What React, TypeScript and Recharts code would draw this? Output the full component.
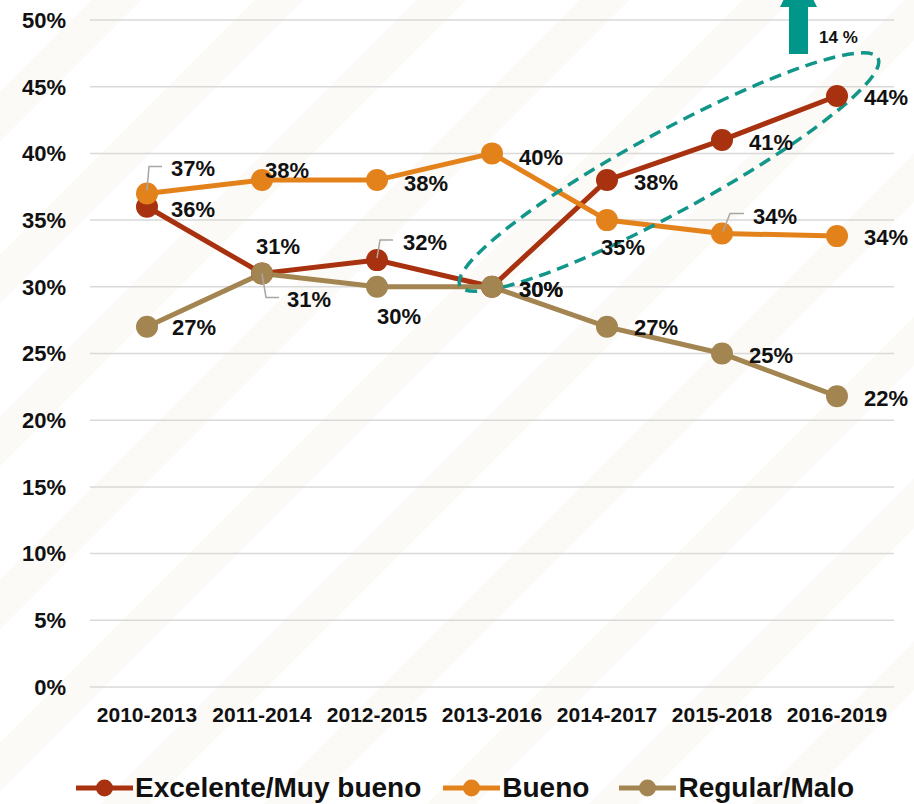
import {
  CartesianGrid,
  LabelList,
  Legend,
  Line,
  LineChart,
  ReferenceDot,
  XAxis,
  YAxis,
} from "recharts";

const PERIODS = ["2010-2013", "2011-2014", "2012-2015", "2013-2016", "2014-2017", "2015-2018", "2016-2019"];
const EXCELENTE = [36, 31, 32, 30, 38, 41, 44.3];
const BUENO = [37, 38, 38, 40, 35, 34, 33.8];
const REGULAR = [27, 31, 30, 30, 27, 25, 21.8];
const Y_TICKS = [0, 5, 10, 15, 20, 25, 30, 35, 40, 45, 50];

const COLORS = { exc: "#A8310F", bueno: "#E3821B", reg: "#A38552" };
const TEAL = "#12968A";

// label placement per point: [dx to text start, dy to text middle, leader]
type Place = [number, number, string?];
const EXC_LABELS: Place[] = [[24, 3], [-6, -27], [26, -18, "up"], [27, 3], [27, 2], [27, 2], [27, 1]];
const BUENO_LABELS: Place[] = [[24, -25, "up0"], [3, -10], [27, 3], [27, 4], [-6, 27], [31, -17, "up1"], [27, 1]];
const REG_LABELS: Place[] = [[25, 1], [25, 26, "down"], [0, 30], [27, 3], [27, 1], [27, 2], [27, 2]];

const LEADERS: Record<string, string> = {
  up: "M0,-2 L3,-20 L16,-20",
  up0: "M0,-3 L2,-27 L15,-27",
  up1: "M1,-2 L8,-20 L22,-20",
  down: "M0,0 L4,24 L17,24",
};

const data = PERIODS.map((p, i) => ({ period: p, exc: EXCELENTE[i], bueno: BUENO[i], reg: REGULAR[i] }));

const LABEL_FONT = "'Liberation Sans', Arial, sans-serif";

function labelFor(places: Place[]) {
  return (props: any) => {
    const { x, y, value, index } = props;
    const pl = places[index] ?? [27, 2];
    const leader = pl[2] ? LEADERS[pl[2]] : null;
    return (
      <g>
        {leader && (
          <path d={leader} transform={`translate(${x},${y})`} stroke="#A6A6A6" strokeWidth={1.5} fill="none" />
        )}
        <text
          x={x + pl[0]}
          y={y + pl[1]}
          dominantBaseline="central"
          fontFamily={LABEL_FONT}
          fontWeight="bold"
          fontSize={22}
          fill="#111"
        >
          {Math.round(value)}%
        </text>
      </g>
    );
  };
}

const LEGEND_ITEMS = [
  { key: "exc", name: "Excelente/Muy bueno", gap: 0 },
  { key: "bueno", name: "Bueno", gap: 22 },
  { key: "reg", name: "Regular/Malo", gap: 30 },
];

function LegendContent() {
  return (
    <div style={{ height: 67, position: "relative" }}>
      <div style={{ position: "absolute", top: 35, left: 76, display: "flex", alignItems: "center" }}>
        {LEGEND_ITEMS.map((it) => (
          <div key={it.key} style={{ display: "flex", alignItems: "center", marginLeft: it.gap }}>
            <svg width={57} height={20}>
              <line x1={0} y1={10} x2={57} y2={10} stroke={(COLORS as any)[it.key]} strokeWidth={5} />
              <circle cx={28.5} cy={10} r={8.5} fill={(COLORS as any)[it.key]} />
            </svg>
            <span
              style={{
                fontFamily: LABEL_FONT,
                fontWeight: "bold",
                fontSize: 28,
                lineHeight: "32px",
                color: "#111",
                marginLeft: 2,
              }}
            >
              {it.name}
            </span>
          </div>
        ))}
      </div>
    </div>
  );
}

const EllipseShape = (props: any) => {
  const cx = props.cx - 53;
  const cy = props.cy;
  return (
    <ellipse
      cx={cx}
      cy={cy}
      rx={238}
      ry={40}
      transform={`rotate(-28.6 ${cx} ${cy})`}
      fill="none"
      stroke={TEAL}
      strokeWidth={3.5}
      strokeDasharray="12 7"
    />
  );
};

const ArrowShape = (props: any) => {
  const { cx, cy } = props;
  return (
    <g>
      <rect x={cx - 48} y={cy - 14} width={19} height={48} fill="#00968A" />
      <polygon points={`${cx - 57},${cy - 13} ${cx - 20},${cy - 13} ${cx - 38.5},${cy - 50}`} fill="#00968A" />
      <text x={cx - 18} y={cy + 23} fontFamily={LABEL_FONT} fontWeight="bold" fontSize={17} fill="#111">
        14 %
      </text>
    </g>
  );
};

export default function App() {
  return (
    <div
      style={{
        position: "absolute",
        left: 0,
        top: 0,
        width: 914,
        height: 804,
        background:
          "repeating-linear-gradient(-45deg, #ffffff 0px, #ffffff 80px, #fcfaf6 80px, #fcfaf6 115px)",
      }}
    >
      <LineChart width={914} height={804} data={data} margin={{ top: 20, right: 20, left: 0, bottom: 0 }}>
        <CartesianGrid vertical={false} stroke="#D9D9D9" strokeWidth={1.5} />
        <XAxis
          dataKey="period"
          interval={0}
          padding={{ left: 57, right: 57 }}
          tickLine={false}
          axisLine={false}
          tickSize={0}
          tickMargin={20}
          height={50}
          tick={{ fontFamily: LABEL_FONT, fontWeight: "bold", fontSize: 21, fill: "#111" }}
        />
        <YAxis
          domain={[0, 50]}
          ticks={Y_TICKS}
          width={90}
          tickLine={false}
          axisLine={false}
          tickSize={0}
          tickMargin={24}
          tickFormatter={(v) => `${v}%`}
          tick={{ fontFamily: LABEL_FONT, fontWeight: "bold", fontSize: 22, fill: "#111" }}
        />
        <Legend verticalAlign="bottom" wrapperStyle={{ left: 0, width: 914 }} content={() => <LegendContent />} />
        <Line
          dataKey="exc"
          name="Excelente/Muy bueno"
          stroke={COLORS.exc}
          strokeWidth={5}
          dot={{ r: 11, fill: COLORS.exc, stroke: COLORS.exc, strokeWidth: 0 }}
          activeDot={false}
          isAnimationActive={false}
        >
          <LabelList dataKey="exc" content={labelFor(EXC_LABELS)} />
        </Line>
        <Line
          dataKey="bueno"
          name="Bueno"
          stroke={COLORS.bueno}
          strokeWidth={5}
          dot={{ r: 11, fill: COLORS.bueno, stroke: COLORS.bueno, strokeWidth: 0 }}
          activeDot={false}
          isAnimationActive={false}
        >
          <LabelList dataKey="bueno" content={labelFor(BUENO_LABELS)} />
        </Line>
        <Line
          dataKey="reg"
          name="Regular/Malo"
          stroke={COLORS.reg}
          strokeWidth={5}
          dot={{ r: 11, fill: COLORS.reg, stroke: COLORS.reg, strokeWidth: 0 }}
          activeDot={false}
          isAnimationActive={false}
        >
          <LabelList dataKey="reg" content={labelFor(REG_LABELS)} />
        </Line>
        <ReferenceDot x="2015-2018" y={38.6} r={0} shape={EllipseShape} ifOverflow="visible" />
        <ReferenceDot x="2016-2019" y={50} r={0} shape={ArrowShape} ifOverflow="visible" />
      </LineChart>
    </div>
  );
}
